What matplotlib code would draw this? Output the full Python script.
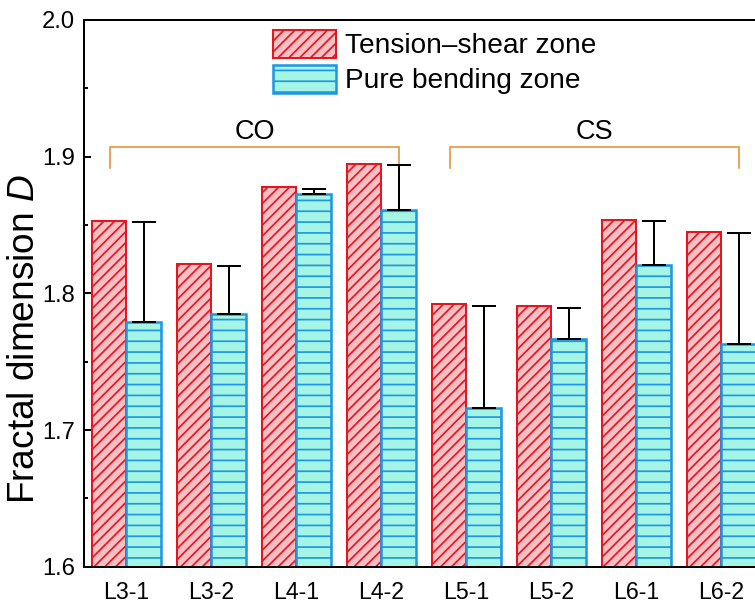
import numpy as np
import matplotlib
matplotlib.use("Agg")
import matplotlib.pyplot as plt

# ---- data ----
categories = ["L3-1", "L3-2", "L4-1", "L4-2", "L5-1", "L5-2", "L6-1", "L6-2"]
tension_shear = [1.853, 1.8215, 1.8776, 1.8946, 1.792, 1.791, 1.8537, 1.8447]
pure_bending = [1.779, 1.785, 1.8724, 1.861, 1.716, 1.7666, 1.8207, 1.763]
pure_bending_err = [0.073, 0.035, 0.004, 0.033, 0.075, 0.023, 0.032, 0.081]
series_names = ["Tension\u2013shear zone", "Pure bending zone"]
group_names = ["CO", "CS"]
group_spans = [(0, 3), (4, 7)]
y_ticks = [1.6, 1.7, 1.8, 1.9, 2.0]

# ---- style ----
DPI = 130
W, H = 755, 603
plt.rcParams['font.family'] = ['Liberation Sans', 'DejaVu Sans']
plt.rcParams['mathtext.fontset'] = 'custom'
plt.rcParams['mathtext.rm'] = 'Liberation Sans'
plt.rcParams['mathtext.it'] = 'Liberation Sans:italic'
plt.rcParams['hatch.linewidth'] = 0.95

red_edge = '#E8141E'
red_face = '#F8C0C4'
blue_edge = '#1E96E1'
blue_face = '#A4F5E6'
orange = '#E8922E'

fig = plt.figure(figsize=(W / DPI, H / DPI), dpi=DPI)
ax = fig.add_axes([84 / W, 36.3 / H, (763.8 - 84) / W, 546.7 / H])

x = np.arange(len(categories))
bw = 0.405
ax.bar(x - bw / 2, tension_shear, width=bw, facecolor=red_face,
       edgecolor=red_edge, hatch='////', linewidth=1.1, label=series_names[0], zorder=2)
ax.bar(x + bw / 2, pure_bending, width=bw, facecolor=blue_face,
       edgecolor=blue_edge, hatch='--', linewidth=1.4, label=series_names[1], zorder=2)
ax.errorbar(x + bw / 2, pure_bending, yerr=[np.zeros(len(x)), pure_bending_err],
            fmt='none', ecolor='black', elinewidth=1.1, capsize=6.4, capthick=1.1, zorder=3)

ax.set_xlim(-0.5, len(categories) - 0.5)
ax.set_ylim(1.6, 2.0)
ax.set_yticks(y_ticks)
ax.set_yticklabels([f"{v:.1f}" for v in y_ticks])
ax.set_yticks(np.arange(1.65, 2.0, 0.1), minor=True)
ax.set_xticks(x)
ax.set_xticklabels(categories)
ax.tick_params(axis='x', length=0, pad=8, labelsize=12.8)
ax.tick_params(axis='y', which='major', direction='in', length=4, width=1.1, pad=5, labelsize=13.2)
ax.tick_params(axis='y', which='minor', direction='in', length=2, width=1.1)
for s in ['left', 'top', 'bottom', 'right']:
    ax.spines[s].set_linewidth(1.1)

ax.set_ylabel("Fractal dimension $\\it{D}$", fontsize=20.5)
ax.yaxis.set_label_coords((42 - 84) / (763.8 - 84), (567 - 339) / 546.7)

# group brackets
for name, (a, b) in zip(group_names, group_spans):
    xl, xr = a - 0.19, b + 0.21
    ax.plot([xl, xl, xr, xr], [1.8917, 1.9073, 1.9073, 1.8917], color=orange,
            lw=0.9, zorder=2, solid_joinstyle='miter')
    ax.text((xl + xr) / 2, 1.9127, name, ha='center', va='baseline', fontsize=15)

leg = ax.legend(loc='upper left', bbox_to_anchor=(272.7 / W, 1 - 30 / H),
                bbox_transform=fig.transFigure, frameon=False, fontsize=15.5,
                borderpad=0, borderaxespad=0, handlelength=2.25, handleheight=1.15,
                labelspacing=0.2, handletextpad=0.32)

fig.savefig("out.png", dpi=DPI)
